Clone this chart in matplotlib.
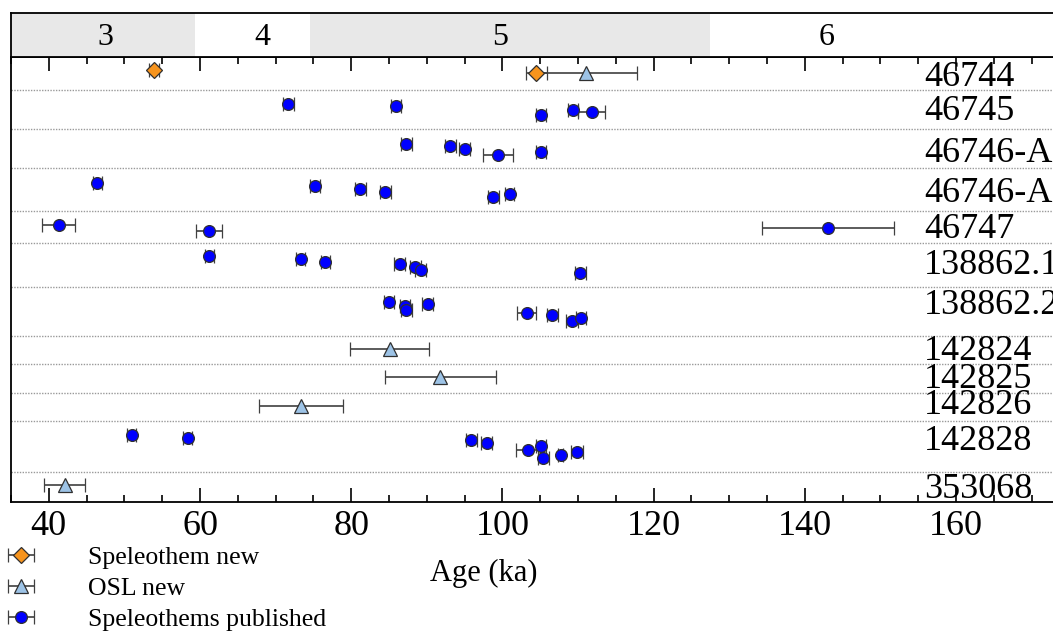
'''
Speleothem and OSL ages per sample, with MIS bands on top
'''
import matplotlib
matplotlib.use("Agg")
from matplotlib import pyplot as plt
from matplotlib.ticker import MultipleLocator

plt.rcParams['font.family'] = ['Liberation Serif', 'DejaVu Serif']

# Sample rows (top to bottom) and the row edges on the vertical scale
samples = ["46744", "46745", "46746-A", "46746-A", "46747", "138862.1",
           "138862.2", "142824", "142825", "142826", "142828", "353068"]
row_edges = [0, 3.25, 7.2, 11.1, 15.4, 18.6, 23.0, 27.9, 30.7, 33.6, 36.4, 41.5, 44.5]
label_y = [2.0, 5.4, 9.6, 13.6, 17.2, 20.8, 24.8, 29.45, 32.2, 34.9, 38.4, 43.2]
age_ticks = [40, 60, 80, 100, 120, 140, 160]

# Marine isotope stages
mis_names = ["3", "4", "5", "6"]
mis_bounds = [35, 59.3, 74.5, 127.5, 185]
mis_label_x = [47.5, 68.3, 99.7, 142.9]

# Speleothem new (age ka, error, row position)
spel_new_age = [53.9, 104.5]
spel_new_err = [0.7, 1.35]
spel_new_y = [1.3, 1.56]

# OSL new
osl_age = [111.0, 85.1, 91.8, 73.4, 42.1]
osl_err = [6.75, 5.25, 7.35, 5.55, 2.75]
osl_y = [1.56, 29.18, 31.98, 34.85, 42.8]

# Speleothems published
pub_age = [71.7, 85.9, 105.1, 109.4, 111.8,
           87.3, 93.1, 95.0, 99.4, 105.1,
           46.4, 75.2, 81.2, 84.5, 98.8, 101.0,
           41.3, 61.2, 143.1,
           61.2, 73.3, 76.6, 86.4, 88.5, 89.2, 110.3,
           85.0, 87.1, 87.3, 90.1, 103.2, 106.6, 109.2, 110.4,
           51.0, 58.4, 95.9, 97.9, 103.4, 105.1, 105.4, 107.7, 109.9]
pub_err = [0.7, 0.7, 0.7, 0.66, 1.8,
           0.7, 0.7, 0.7, 2.0, 0.7,
           0.6, 0.7, 0.7, 0.7, 0.7, 0.6,
           2.2, 1.7, 8.7,
           0.6, 0.6, 0.6, 0.7, 0.7, 0.7, 0.7,
           0.7, 0.7, 0.7, 0.7, 1.28, 0.7, 0.77, 0.7,
           0.6, 0.6, 0.7, 0.7, 1.6, 0.7, 0.75, 0.3, 0.8]
pub_y = [4.7, 4.94, 5.79, 5.28, 5.52,
         8.66, 8.9, 9.16, 9.77, 9.5,
         12.64, 12.88, 13.15, 13.45, 14.0, 13.73,
         16.83, 17.44, 17.1,
         19.92, 20.23, 20.5, 20.73, 21.0, 21.34, 21.58,
         24.45, 24.89, 25.3, 24.72, 25.56, 25.8, 26.4, 26.14,
         37.83, 38.06, 38.33, 38.64, 39.25, 38.9, 40.09, 39.75, 39.48]

XMIN, XMAX = 35, 185

fig = plt.figure(figsize=(10.53, 6.31), dpi=100)
left = 11 / 1053
width = (XMAX - XMIN) * 7.56 / 1053
ax = fig.add_axes([left, 1 - 502 / 631, width, 445 / 631])
ax_top = fig.add_axes([left, 1 - 57 / 631, width, 44 / 631])

# MIS band
for i, name in enumerate(mis_names):
    color = "#e8e8e8" if i % 2 == 0 else "white"
    ax_top.axvspan(mis_bounds[i], mis_bounds[i + 1], color=color, lw=0)
    ax_top.text(mis_label_x[i], 0.45, name, ha="center", va="center", fontsize=23)
ax_top.set_xlim(XMIN, XMAX)
ax_top.set_ylim(0, 1)
ax_top.set_xticks([])
ax_top.set_yticks([])
for sp in ax_top.spines.values():
    sp.set_linewidth(1.3)

# Row separators
for edge in row_edges[1:-1]:
    ax.axhline(edge, color="#999999", ls=(0, (1, 1)), lw=1.0, zorder=1)

err_style = dict(ls="none", ecolor="#404040", elinewidth=1.2, capsize=5,
                 capthick=1.2, mec="#303030", mew=0.9, zorder=3)
ax.errorbar(spel_new_age, spel_new_y, xerr=spel_new_err, fmt="D", ms=8.5,
            mfc="#f7941d", label="Speleothem new", **err_style)
ax.errorbar(osl_age, osl_y, xerr=osl_err, fmt="^", ms=10,
            mfc="#9dc3e6", label="OSL new", **err_style)
ax.errorbar(pub_age, pub_y, xerr=pub_err, fmt="o", ms=8.5,
            mfc="#0000ff", label="Speleothems published", **err_style)

for name, yy in zip(samples, label_y):
    ax.text(155.8, yy, name, ha="left", va="center", fontsize=26, zorder=4)

ax.set_xlim(XMIN, XMAX)
ax.set_ylim(row_edges[-1], row_edges[0])
ax.set_yticks([])
ax.set_xticks(age_ticks)
ax.xaxis.set_minor_locator(MultipleLocator(5))
ax.tick_params(axis="x", which="both", direction="in", top=True, bottom=True,
               labelsize=26, pad=6, width=1.2)
ax.tick_params(axis="x", which="major", length=10)
ax.tick_params(axis="x", which="minor", length=5)
for sp in ax.spines.values():
    sp.set_linewidth(1.3)

fig.text(484 / 1053, 1 - 573 / 631, "Age (ka)", ha="center", va="center", fontsize=22)

handles, labels = ax.get_legend_handles_labels()
fig.legend(handles, labels, loc="upper left", bbox_to_anchor=(3 / 1053, 1 - 541 / 631),
           frameon=False, fontsize=18.5, handlelength=1.0, handletextpad=2.1,
           labelspacing=0.3, borderpad=0.2, borderaxespad=0)

fig.savefig("out.png", dpi=100)
